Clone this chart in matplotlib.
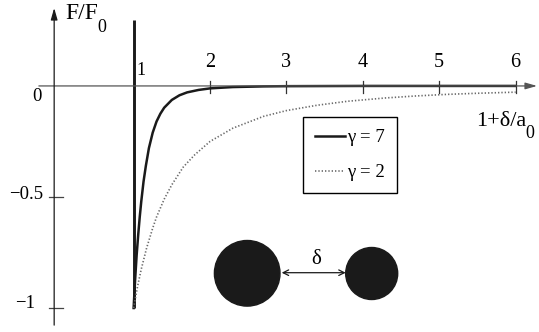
import matplotlib
matplotlib.use('Agg')
import matplotlib.pyplot as plt
from matplotlib.patches import Circle

plt.rcParams['font.family'] = ['Liberation Serif', 'DejaVu Serif']

# values
x_g7 = [1.0, 1.02, 1.04, 1.06, 1.08, 1.1, 1.13, 1.16, 1.2, 1.25, 1.3, 1.35, 1.4,
        1.5, 1.6, 1.7, 1.85, 2.0, 2.3, 2.7, 3.0, 4.0, 5.0, 6.0]
f_g7 = [-1.0, -0.87, -0.76, -0.67, -0.59, -0.52, -0.43, -0.36, -0.28, -0.21, -0.16,
        -0.125, -0.098, -0.063, -0.042, -0.029, -0.018, -0.011, -0.005, -0.002,
        -0.001, 0.0, 0.0, 0.0]
x_g2 = [1.0, 1.05, 1.1, 1.17, 1.25, 1.3, 1.4, 1.5, 1.65, 1.8, 2.0, 2.3, 2.7, 3.0,
        3.4, 3.8, 4.3, 4.7, 5.1, 5.5, 6.0]
f_g2 = [-1.0, -0.905, -0.825, -0.73, -0.64, -0.59, -0.51, -0.445, -0.365, -0.31,
        -0.25, -0.19, -0.137, -0.111, -0.087, -0.069, -0.054, -0.045, -0.038,
        -0.033, -0.028]
xticks = [2, 3, 4, 5, 6]
yticks = [0, -0.5, -1]
ytick_labels = ['0', '\u22120.5', '\u22121']
labels = ['\u03b3 = 7', '\u03b3 = 2']

W, H = 539, 332
fig = plt.figure(figsize=(W / 100, H / 100), dpi=100)
ax = fig.add_axes([0, 0, 1, 1])
ax.set_xlim(-0.749, 6.306)
ax.set_ylim(-1.108, 0.387)
ax.axis('off')


def px(x, y):
    # pixel position -> axes fraction
    return x / W, 1 - y / H


dark = '#1a1a1a'

# axes with arrows
ax.annotate('', xy=(6.28, 0), xytext=(-0.24, 0),
            arrowprops=dict(arrowstyle='-|>,head_length=0.7,head_width=0.2',
                            lw=0.9, color='#555555', shrinkA=0, shrinkB=0))
ax.annotate('', xy=(-0.04, 0.351), xytext=(-0.04, -1.077),
            arrowprops=dict(arrowstyle='-|>,head_length=0.7,head_width=0.2',
                            lw=0.9, color=dark, shrinkA=0, shrinkB=0))

for t in xticks:
    ax.plot([t, t], [0.024, -0.032], color='#333333', lw=0.9)
    ax.text(t, 0.106, str(t), fontsize=14.5, ha='center', va='center')
ax.text(1.09, 0.068, '1', fontsize=13, ha='center', va='center')

for t in yticks[1:]:
    ax.plot([-0.107, 0.076], [t, t], color='#444444', lw=0.9)
ax.text(*px(43, 194.5), ytick_labels[1], fontsize=13.5, ha='right', va='center',
        transform=ax.transAxes)
ax.text(*px(35, 304), ytick_labels[2], fontsize=13.5, ha='right', va='center',
        transform=ax.transAxes)
ax.text(*px(37, 96.5), ytick_labels[0], fontsize=13.5, ha='center', va='center',
        transform=ax.transAxes)

# axis labels
ax.text(*px(65, 19), 'F/F', fontsize=17, ha='left', va='baseline',
        transform=ax.transAxes)
ax.text(*px(97, 32), '0', fontsize=13, ha='left', va='baseline',
        transform=ax.transAxes)
ax.text(*px(476, 125.5), '1+\u03b4/a', fontsize=16, ha='left', va='baseline',
        transform=ax.transAxes)
ax.text(*px(525, 138), '0', fontsize=13, ha='left', va='baseline',
        transform=ax.transAxes)

# wall at x = 1
ax.plot([1, 1], [-1, 0.297], color=dark, lw=2.1, solid_capstyle='butt')

l7, = ax.plot(x_g7, f_g7, color=dark, lw=1.8, label=labels[0])
l2, = ax.plot(x_g2, f_g2, color='#6a6a6a', lw=1.2, linestyle=(0, (0.8, 1.2)),
              label=labels[1])

leg = ax.legend(handles=[l7, l2], loc='upper left', bbox_to_anchor=px(303, 117),
                fontsize=13.5, frameon=True, fancybox=False, framealpha=1,
                edgecolor='black', handlelength=1.6, handletextpad=0.1,
                borderpad=0.65, labelspacing=0.95, borderaxespad=0)
leg.get_frame().set_linewidth(1.0)

# two spheres separated by delta
tr = fig.dpi_scale_trans
ax.add_patch(Circle((247.2 / 100, (H - 273.3) / 100), 0.328, transform=tr,
                    color=dark))
ax.add_patch(Circle((371.7 / 100, (H - 273.5) / 100), 0.26, transform=tr,
                    color=dark))
ax.annotate('', xy=px(345.7, 272.7), xytext=px(281.7, 272.7),
            xycoords='axes fraction', textcoords='axes fraction',
            arrowprops=dict(arrowstyle='<->,head_length=0.4,head_width=0.2',
                            lw=0.9, color=dark, shrinkA=0, shrinkB=0))
ax.text(*px(315.8, 259), '\u03b4', fontsize=15, ha='center', va='center',
        transform=ax.transAxes)

fig.savefig('out.png', dpi=100)
